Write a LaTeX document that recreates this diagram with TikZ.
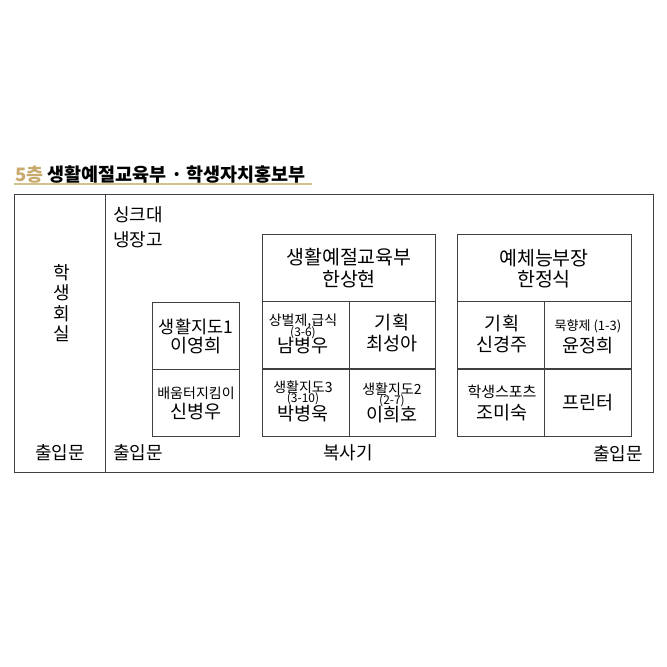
\documentclass[tikz,border=0pt]{standalone}
\usepackage{fontspec}
\setmainfont{Noto Sans CJK KR}
\usepackage{tikz}
\usetikzlibrary{positioning}
\usepackage{xcolor}
\definecolor{titlegold}{HTML}{C8AA6E}
\definecolor{rulegold}{HTML}{D3C08F}
\definecolor{wallgray}{HTML}{404040}
\tikzset{
	wall/.style={draw=wallgray, line width=0.9pt, inner sep=0pt},
	cell/.style={%
		draw=wallgray, line width=0.8pt, inner sep=0pt,
		minimum width=#1,
		minimum height=67
	},
	cell/.default=86.7,
	roomtext/.style={font=\fontsize{18}{20}\selectfont, inner sep=0pt},
	headtext/.style={font=\fontsize{19.5}{21}\selectfont, inner sep=0pt},
	person/.style={font=\fontsize{18.5}{20}\selectfont, inner sep=0pt},
	duty/.style={font=\fontsize{14}{15}\selectfont, inner sep=0pt},
	grade/.style={font=\fontsize{12}{13}\selectfont, inner sep=0pt}
}
\begin{document}
\begin{tikzpicture}[x=1pt,y=-1pt]
		\useasboundingbox (0,0) rectangle (667,667);
		
		% title
		\node[anchor=west,inner sep=0pt,font=\fontsize{18.5}{20}\selectfont\bfseries] (title) at (15,175) {\textcolor{titlegold}{5층} 생활예절교육부 · 학생자치홍보부};
		\coordinate (rulestart) at (14,183.5);
		\coordinate (ruleend) at (312,183.5);
		\draw[rulegold,line width=2] (rulestart) -- (ruleend);
		
		% rooms
		\node[wall,minimum width=90.5,minimum height=278] (lounge) at (59.75,333) {};
		\node[wall,minimum width=548,minimum height=278] (hall) at (379,333) {};
		
		\node[roomtext,align=center,font=\fontsize{18}{20.5}\selectfont] (loungename) at (62,303) {학\\생\\회\\실};
		\node[roomtext] (loungedoor) at (60,453) {출입문};
		\node[roomtext,anchor=west] (sink) at (113,215) {싱크대};
		\node[roomtext,anchor=west] (fridge) at (113,240) {냉장고};
		\node[roomtext,anchor=west] (halldoor) at (113,453) {출입문};
		\node[roomtext] (copier) at (348,453) {복사기};
		\node[roomtext] (reardoor) at (618,454) {출입문};
		
		% left desks
		\node[cell] (guide1) at (196,335.5) {};
		\node[cell] (mentor) at (196,402.5) {};
		\node[person,font=\fontsize{17.5}{20}\selectfont] (guide1duty) at (196,327) {생활지도1};
		\node[person] (guide1name) at (196,346) {이영희};
		\node[duty] (mentorduty) at (196,393) {배움터지킴이};
		\node[person] (mentorname) at (196,412) {신병우};
		
		% manners department
		\node[cell=173.4] (lifehead) at (349,267.7) {};
		\node[cell] (discipline) at (305.65,335) {};
		\node[cell] (plan1) at (392.35,335) {};
		\node[cell] (guide3) at (305.65,402.5) {};
		\node[cell] (guide2) at (392.35,402.5) {};
		
		\node[headtext] (lifeheadduty) at (349,257) {생활예절교육부};
		\node[headtext] (lifeheadname) at (349,279) {한상현};
		\node[duty] (disciplineduty) at (303,321.5) {상벌제,급식};
		\node[grade] (disciplinegrade) at (303,333) {(3-6)};
		\node[person] (disciplinename) at (303,346) {남병우};
		\node[person] (plan1duty) at (392,323) {기획};
		\node[person] (plan1name) at (392,344) {최성아};
		\node[duty] (guide3duty) at (303,387.5) {생활지도3};
		\node[grade] (guide3grade) at (303,399) {(3-10)};
		\node[person] (guide3name) at (303,414) {박병욱};
		\node[duty] (guide2duty) at (392,389) {생활지도2};
		\node[grade] (guide2grade) at (392,401) {(2-7)};
		\node[person] (guide2name) at (392,415) {이희호};
		
		% arts and sports department
		\node[cell=173.7] (artshead) at (544.15,267.7) {};
		\node[cell] (plan2) at (500.8,335) {};
		\node[cell] (incense) at (587.6,335) {};
		\node[cell] (sports) at (500.8,402.5) {};
		\node[cell] (printer) at (587.6,402.5) {};
		
		\node[headtext] (artsheadduty) at (544,258) {예체능부장};
		\node[headtext] (artsheadname) at (544,279) {한정식};
		\node[person] (plan2duty) at (502,324) {기획};
		\node[person] (plan2name) at (502,345) {신경주};
		\node[duty,font=\fontsize{13}{15}\selectfont] (incenseduty) at (588,326) {묵향제 (1-3)};
		\node[person] (incensename) at (588,346) {윤정희};
		\node[duty,font=\fontsize{15}{16}\selectfont] (sportsduty) at (502,392) {학생스포츠};
		\node[person] (sportsname) at (502,413) {조미숙};
		\node[person] (printername) at (588,403) {프린터};
		
\end{tikzpicture}
\end{document}
